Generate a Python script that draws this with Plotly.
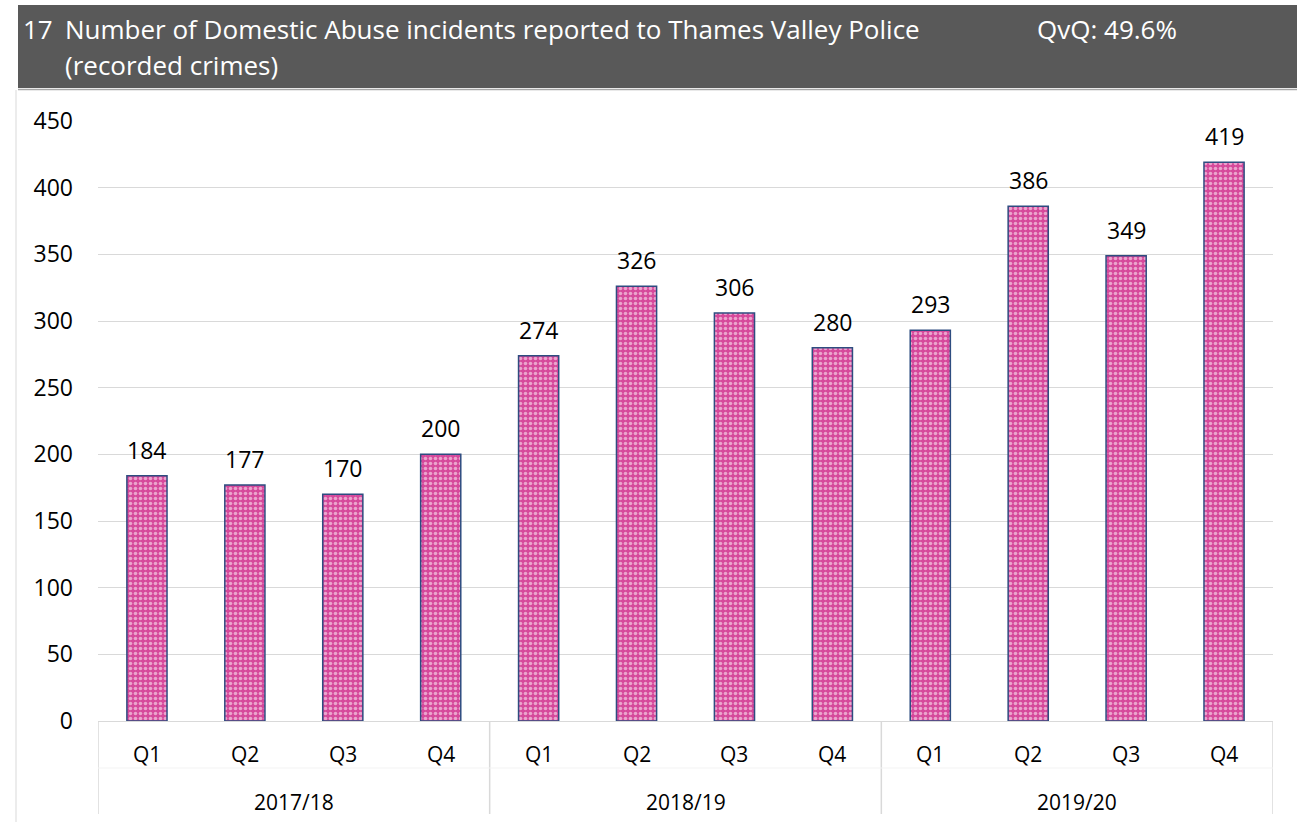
import plotly.graph_objects as go

years = ["2017/18"] * 4 + ["2018/19"] * 4 + ["2019/20"] * 4
quarters = ["Q1", "Q2", "Q3", "Q4"] * 3
values = [184, 177, 170, 200, 274, 326, 306, 280, 293, 386, 349, 419]
y_ticks = [0, 50, 100, 150, 200, 250, 300, 350, 400, 450]

title_number = "17"
title_line1 = "Number of Domestic Abuse incidents reported to Thames Valley Police"
title_line2 = "(recorded crimes)"
qvq_text = "QvQ: 49.6%"

FONT = "Open Sans, Noto Sans, sans-serif"
W, H = 1297, 822
L, R, T, B = 98, 24, 121, 101
PW, PH = W - L - R, H - T - B


def px(xp):
    return (xp - L) / PW


def py(yp):
    return (H - B - yp) / PH


pos = list(range(len(values)))

fig = go.Figure()
fig.add_trace(go.Bar(
    x=pos,
    y=values,
    width=0.41,
    marker=dict(
        color="#d6489b",
        line=dict(color="#2e4d80", width=1.5),
        pattern=dict(shape=".", fgcolor="#ffffff", bgcolor="#d6489b", size=5, solidity=0.4),
    ),
    hoverinfo="y",
))

# data labels above bars
for xi, v in zip(pos, values):
    fig.add_annotation(x=xi, y=v, xref="x", yref="y", text=str(v), showarrow=False,
                       yanchor="middle", yshift=26,
                       font=dict(size=23, color="#000000", family=FONT))

fig.update_layout(
    width=W, height=H,
    margin=dict(l=L, r=R, t=T, b=B),
    paper_bgcolor="white",
    plot_bgcolor="white",
    showlegend=False,
    font=dict(family=FONT, color="#000000"),
)
fig.update_yaxes(
    range=[0, 450], tickvals=y_ticks, showgrid=True, gridcolor="#d9d9d9", gridwidth=1,
    zeroline=True, zerolinecolor="#d9d9d9", zerolinewidth=1,
    tickfont=dict(size=23, family=FONT, color="#000000"), ticks="", showline=False,
    ticklabelstandoff=24,
)
fig.update_xaxes(
    range=[-0.5, len(values) - 0.5], showticklabels=False, ticks="", showgrid=False,
    zeroline=False, showline=False,
)

# quarter labels
for xi, q in zip(pos, quarters):
    fig.add_annotation(x=xi, y=py(754), xref="x", yref="paper", text=q, showarrow=False,
                       yanchor="middle", font=dict(size=21, color="#000000", family=FONT))

# year group labels and dividers
groups = []
for i, yv in enumerate(years):
    if not groups or groups[-1][0] != yv:
        groups.append([yv, i, i])
    else:
        groups[-1][2] = i
for name, i0, i1 in groups:
    fig.add_annotation(x=(i0 + i1) / 2, y=py(802), xref="x", yref="paper", text=name,
                       showarrow=False, yanchor="middle",
                       font=dict(size=21, color="#000000", family=FONT))
bounds = [groups[0][1] - 0.5] + [g[2] + 0.5 for g in groups]
for b in bounds:
    fig.add_shape(type="line", xref="x", yref="paper", x0=b, x1=b, y0=0, y1=py(814),
                  line=dict(color="#d9d9d9", width=1.5))
fig.add_shape(type="line", xref="x", yref="paper", x0=bounds[0], x1=bounds[-1],
              y0=py(768), y1=py(768), line=dict(color="#f3f3f3", width=1))

# header band
fig.add_shape(type="rect", xref="paper", yref="paper",
              x0=px(18), x1=px(1297), y0=py(88), y1=py(5),
              line=dict(width=0), fillcolor="#595959", layer="below")
fig.add_shape(type="line", xref="paper", yref="paper",
              x0=px(18), x1=px(1297), y0=py(89.5), y1=py(89.5),
              line=dict(width=1.5, color="#a6a6a6"))
fig.add_shape(type="line", xref="paper", yref="paper",
              x0=px(16), x1=px(16), y0=py(90), y1=py(822),
              line=dict(width=1, color="#d9d9d9"))

fig.add_annotation(xref="paper", yref="paper", x=px(21), y=py(29),
                   text=title_number, showarrow=False, xanchor="left", yanchor="middle",
                   font=dict(size=26, color="white", family=FONT))
fig.add_annotation(xref="paper", yref="paper", x=px(63), y=py(29),
                   text=title_line1, showarrow=False, xanchor="left",
                   yanchor="middle", font=dict(size=26, color="white", family=FONT))
fig.add_annotation(xref="paper", yref="paper", x=px(63), y=py(65),
                   text=title_line2, showarrow=False, xanchor="left", yanchor="middle",
                   font=dict(size=26, color="white", family=FONT))
fig.add_annotation(xref="paper", yref="paper", x=px(1035), y=py(29),
                   text=qvq_text, showarrow=False, xanchor="left", yanchor="middle",
                   font=dict(size=26, color="white", family=FONT))

fig.write_html("out.html", config={"displayModeBar": False},
               post_script="document.body.style.margin='0';")
